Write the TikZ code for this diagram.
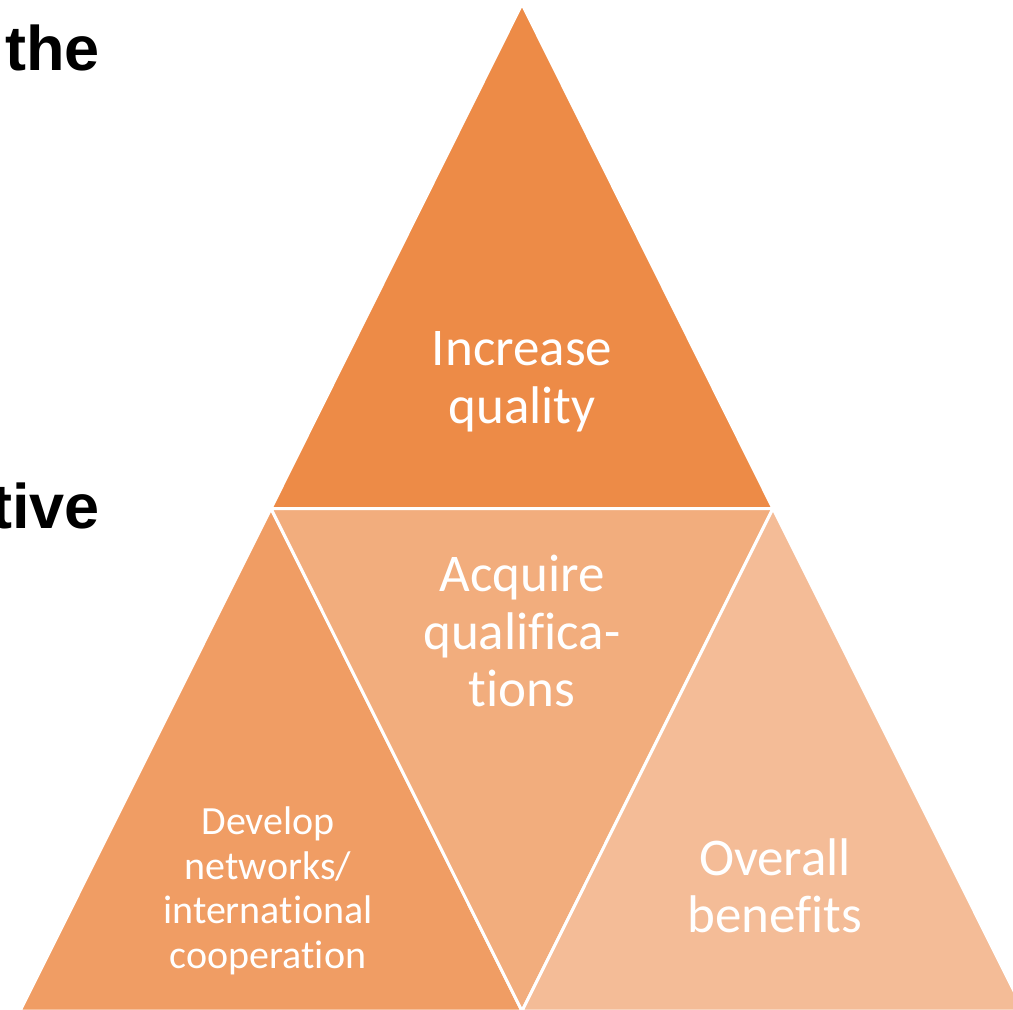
\documentclass[tikz,border=0pt]{standalone}
\usepackage{fontspec}
\setmainfont{Carlito}[Ligatures={NoCommon}]
\newfontfamily\arialfont{Liberation Sans}
\definecolor{ctop}{RGB}{237,139,71}
\definecolor{cleft}{RGB}{240,157,100}
\definecolor{cmid}{RGB}{242,173,125}
\definecolor{cright}{RGB}{244,188,151}
\begin{document}
\begin{tikzpicture}[x=1pt,y=-1pt,
  tri/.style={draw=white, line width=3pt, line join=miter},
  bigtxt/.style={text=white, align=center, inner sep=0pt, font=\fontsize{53}{57.5}\selectfont},
  smalltxt/.style={text=white, align=center, inner sep=0pt, font=\fontsize{40}{44.5}\selectfont},
  sidetxt/.style={text=black, inner sep=0pt, anchor=base east, font=\arialfont\bfseries\fontsize{63}{70}\selectfont}]
\useasboundingbox (0,0) rectangle (1013,1010);
\clip (0,0) rectangle (1013,1010);
\coordinate (A) at (522,4);
\coordinate (B) at (271,508.5);
\coordinate (C) at (773,508.5);
\coordinate (D) at (20,1011);
\coordinate (E) at (522,1011);
\coordinate (F) at (1024,1011);
\filldraw[tri, fill=ctop] (A) -- (B) -- (C) -- cycle;
\filldraw[tri, fill=cleft] (B) -- (D) -- (E) -- cycle;
\filldraw[tri, fill=cmid] (B) -- (C) -- (E) -- cycle;
\filldraw[tri, fill=cright] (C) -- (E) -- (F) -- cycle;
\node[bigtxt] (top) at (522,382) {Increase\\quality};
\node[bigtxt] (mid) at (522,631) {Acquire\\qualifica-\\tions};
\node[smalltxt] (left) at (268,891) {Develop\\networks/\\international\\cooperation};
\node[bigtxt] (right) at (775,886) {Overall\\benefits};
\node[sidetxt] (the) at (100,70) {the};
\node[sidetxt] (tive) at (100,528) {tive};
\end{tikzpicture}
\end{document}
